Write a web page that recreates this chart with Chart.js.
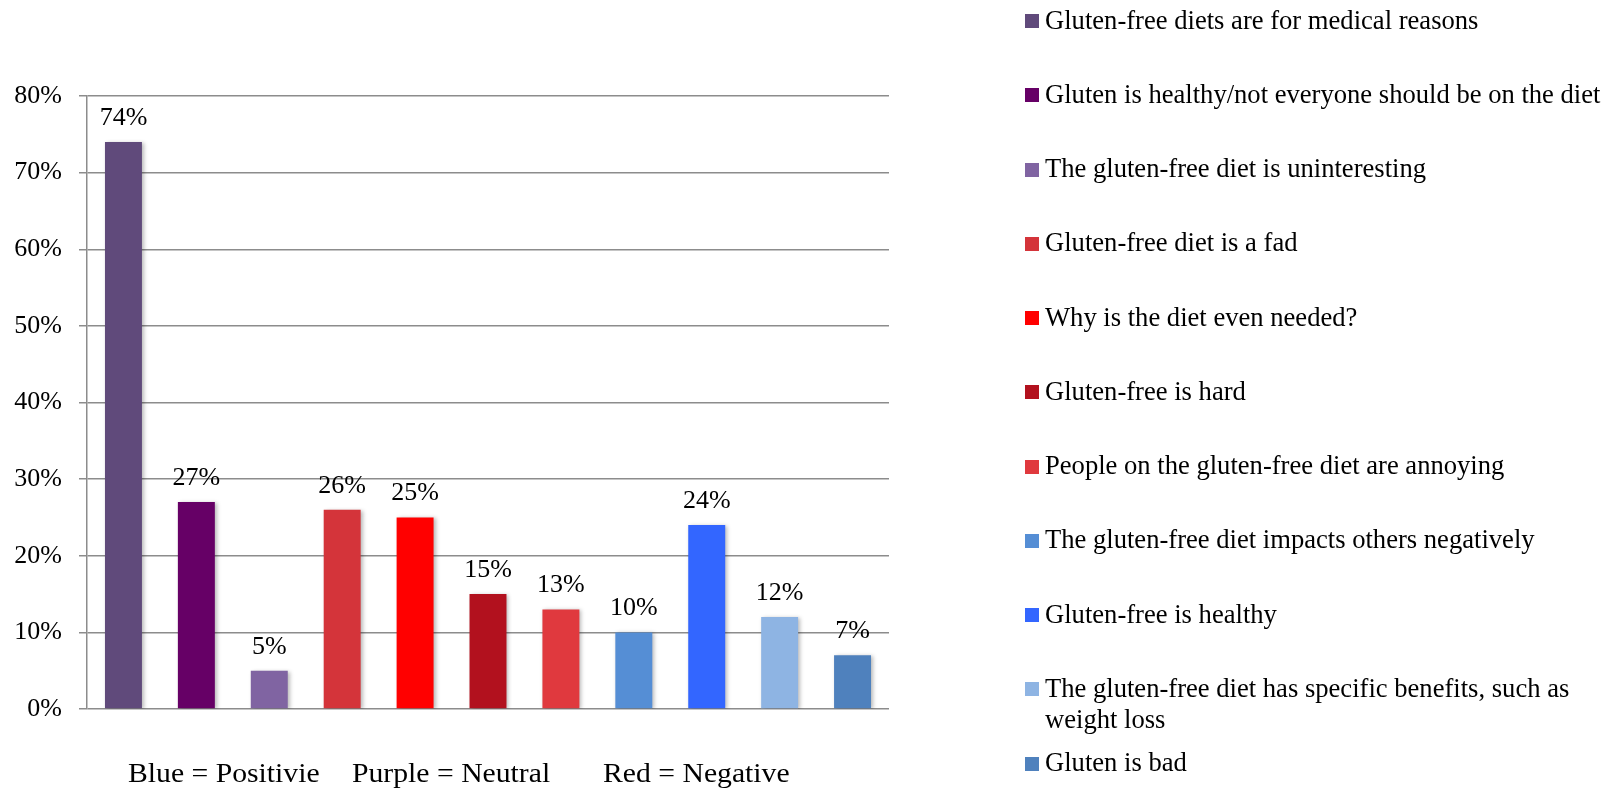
<!DOCTYPE html>
<html>
<head>
<meta charset="utf-8">
<script src="https://cdn.jsdelivr.net/npm/chart.js@4/dist/chart.umd.min.js"></script>
<style>
  html, body { margin: 0; padding: 0; background: #fff; }
  #wrap { position: relative; width: 1610px; height: 791px; overflow: hidden; }
  #chart { position: absolute; left: 0; top: 0; }
  #legend { position: absolute; left: 0; top: 0; font-family: "Liberation Serif", "Times New Roman", serif; font-size: 26.6px; color: #000; }
  .item { position: absolute; left: 1025px; width: 585px; }
  .swatch { position: absolute; left: 0; width: 14px; height: 14px; }
  .label { position: absolute; left: 20px; width: 562px; line-height: 31px; }
</style>
</head>
<body>
<div id="wrap">
  <canvas id="chart" width="1610" height="791"></canvas>
  <div id="legend"></div>
</div>
<script>
// Survey responses: share of respondents mentioning each opinion
const categories = [
  "Gluten-free diets are for medical reasons",
  "Gluten is healthy/not everyone should be on the diet",
  "The gluten-free diet is uninteresting",
  "Gluten-free diet is a fad",
  "Why is the diet even needed?",
  "Gluten-free is hard",
  "People on the gluten-free diet are annoying",
  "The gluten-free diet impacts others negatively",
  "Gluten-free is healthy",
  "The gluten-free diet has specific benefits, such as weight loss",
  "Gluten is bad"
];
const values = [74, 27, 5, 26, 25, 15, 13, 10, 24, 12, 7];
const colors = [
  "#604A7B", "#660066", "#8064A2",
  "#D4343A", "#FF0000", "#B2111E", "#E0393E",
  "#558ED5", "#3366FF", "#8EB4E3", "#4F81BD"
];
const yTicks = [0, 10, 20, 30, 40, 50, 60, 70, 80];
const keyNotes = ["Blue = Positivie", "Purple = Neutral", "Red = Negative"];

const FONT = '"Liberation Serif", "Times New Roman", serif';
const GRID = "#8c8c8c";

// Bar shadows, value labels above bars, and the colour key under the axis
const decorations = {
  id: "decorations",
  beforeDatasetsDraw(chart) {
    const ctx = chart.ctx;
    ctx.save();
    ctx.shadowColor = "rgba(0,0,0,0.28)";
    ctx.shadowBlur = 4;
    ctx.shadowOffsetX = 2;
    ctx.shadowOffsetY = 1;
  },
  afterDatasetsDraw(chart) {
    const ctx = chart.ctx;
    ctx.restore();
    ctx.save();
    ctx.fillStyle = "#000";
    ctx.font = "26px " + FONT;
    ctx.textAlign = "center";
    ctx.textBaseline = "alphabetic";
    const meta = chart.getDatasetMeta(0);
    meta.data.forEach((bar, i) => {
      ctx.fillText(values[i] + "%", bar.x, bar.y - 17);
    });
    // colour key
    const area = chart.chartArea;
    const offsets = [41, 265, 516];
    ctx.textAlign = "left";
    ctx.font = "27px " + FONT;
    keyNotes.forEach((t, i) => {
      ctx.save();
      ctx.translate(area.left + offsets[i], 782);
      ctx.scale(1.1, 1);
      ctx.fillText(t, 0, 0);
      ctx.restore();
    });
    ctx.restore();
  }
};

const chart = new Chart(document.getElementById("chart"), {
  type: "bar",
  data: {
    labels: categories,
    datasets: [{
      data: values,
      backgroundColor: colors,
      borderWidth: 0,
      categoryPercentage: 1,
      barPercentage: 0.507
    }]
  },
  options: {
    responsive: false,
    animation: false,
    devicePixelRatio: 1,
    layout: { padding: { left: 0, top: 96, right: 721, bottom: 82 } },
    plugins: {
      legend: { display: false },
      tooltip: { enabled: false }
    },
    scales: {
      x: { display: false },
      y: {
        min: 0,
        max: 80,
        afterFit(scale) { scale.width = 87; },
        afterBuildTicks(scale) { scale.ticks = yTicks.map(v => ({ value: v })); },
        ticks: {
          padding: 17,
          color: "#000",
          font: { family: FONT, size: 26 },
          callback: v => v + "%"
        },
        grid: {
          color: GRID,
          lineWidth: 1.5,
          tickLength: 8,
          drawTicks: true
        },
        border: { display: true, color: GRID, width: 1.5 }
      }
    }
  },
  plugins: [decorations]
});

// Legend built from the same category and colour arrays
const legend = document.getElementById("legend");
categories.forEach((name, i) => {
  const cy = 21.2 + 74.25 * i;
  const item = document.createElement("div");
  item.className = "item";
  item.style.top = (cy - 16.5) + "px";
  const sw = document.createElement("div");
  sw.className = "swatch";
  sw.style.background = colors[i];
  sw.style.top = "9.5px";
  const lb = document.createElement("div");
  lb.className = "label";
  lb.textContent = name;
  item.appendChild(sw);
  item.appendChild(lb);
  legend.appendChild(item);
});
</script>
</body>
</html>
